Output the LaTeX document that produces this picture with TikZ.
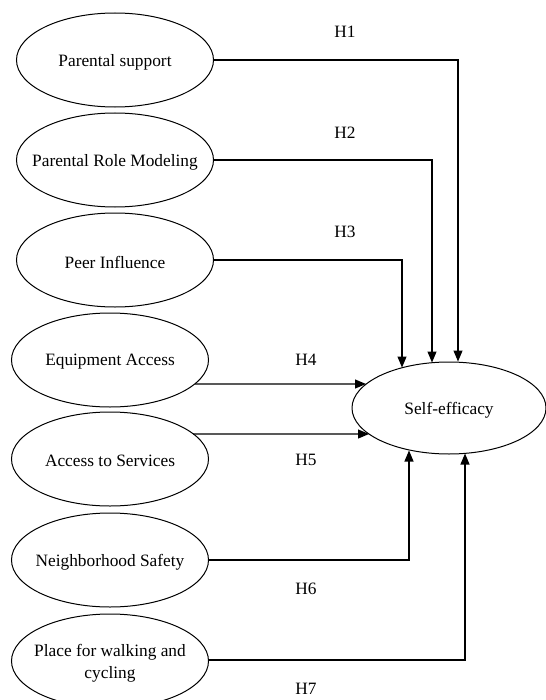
\documentclass[tikz,border=0pt]{standalone}
\usepackage{fontspec}
\setmainfont{Liberation Serif}
\usetikzlibrary{shapes.geometric,arrows.meta}
\begin{document}
\begin{tikzpicture}[x=1bp,y=-1bp,
  txt/.style={font=\fontsize{17.4}{22}\selectfont, inner sep=0pt, align=center},
  ltxt/.style={txt, yshift=-2bp},
  lat/.style={draw, ellipse, line width=1bp, minimum width=197bp, minimum height=94bp, inner sep=0pt},
  selat/.style={lat, minimum width=194bp, minimum height=92bp},
  arr/.style={line width=1.2bp, -{Triangle[length=11bp,width=9bp]}}]
\useasboundingbox (0,0) rectangle (546,700);
\clip (0,0) rectangle (546,700);
\node[lat, label={[ltxt]center:Parental support}] (ps)  at (115,60)  {};
\node[lat, label={[ltxt]center:Parental Role Modeling}] (prm) at (115,160) {};
\node[lat, label={[ltxt]center:Peer Influence}] (pi)  at (115,260) {};
\node[lat, label={[ltxt]center:Equipment Access}] (ea)  at (110,360) {};
\node[lat, label={[ltxt]center:Access to Services}] (as)  at (110,459) {};
\node[lat, label={[ltxt]center:Neighborhood Safety}] (ns)  at (110,560) {};
\node[lat, label={[ltxt]center:{Place for walking and\\cycling}}] (pw)  at (110,661) {};
\node[selat, label={[ltxt]center:Self-efficacy}] (se) at (449,408) {};

\draw[arr] (ps.east) -| ([xshift=9bp]se.north);
\draw[arr] (prm.east) -| ([xshift=-17bp,yshift=-1bp]se.north);
\draw[arr] (pi.east) -| ([xshift=-47bp,yshift=-6bp]se.north);
\draw[arr] ([xshift=85bp,yshift=-24bp]ea.center) -- ([xshift=-83bp,yshift=24bp]se.center);
\draw[arr] ([xshift=83bp,yshift=25bp]as.center) -- ([xshift=-80bp,yshift=-26bp]se.center);
\draw[arr] (ns.east) -| ([xshift=-40bp,yshift=4bp]se.south);
\draw[arr] ([yshift=1bp]pw.east) -| ([xshift=16bp,yshift=1bp]se.south);

\node[txt] (h1) at (345,32) {H1};
\node[txt] (h2) at (345,133) {H2};
\node[txt] (h3) at (345,232) {H3};
\node[txt] (h4) at (306,360) {H4};
\node[txt] (h5) at (306,460) {H5};
\node[txt] (h6) at (306,589) {H6};
\node[txt] (h7) at (306,689) {H7};
\end{tikzpicture}
\end{document}
